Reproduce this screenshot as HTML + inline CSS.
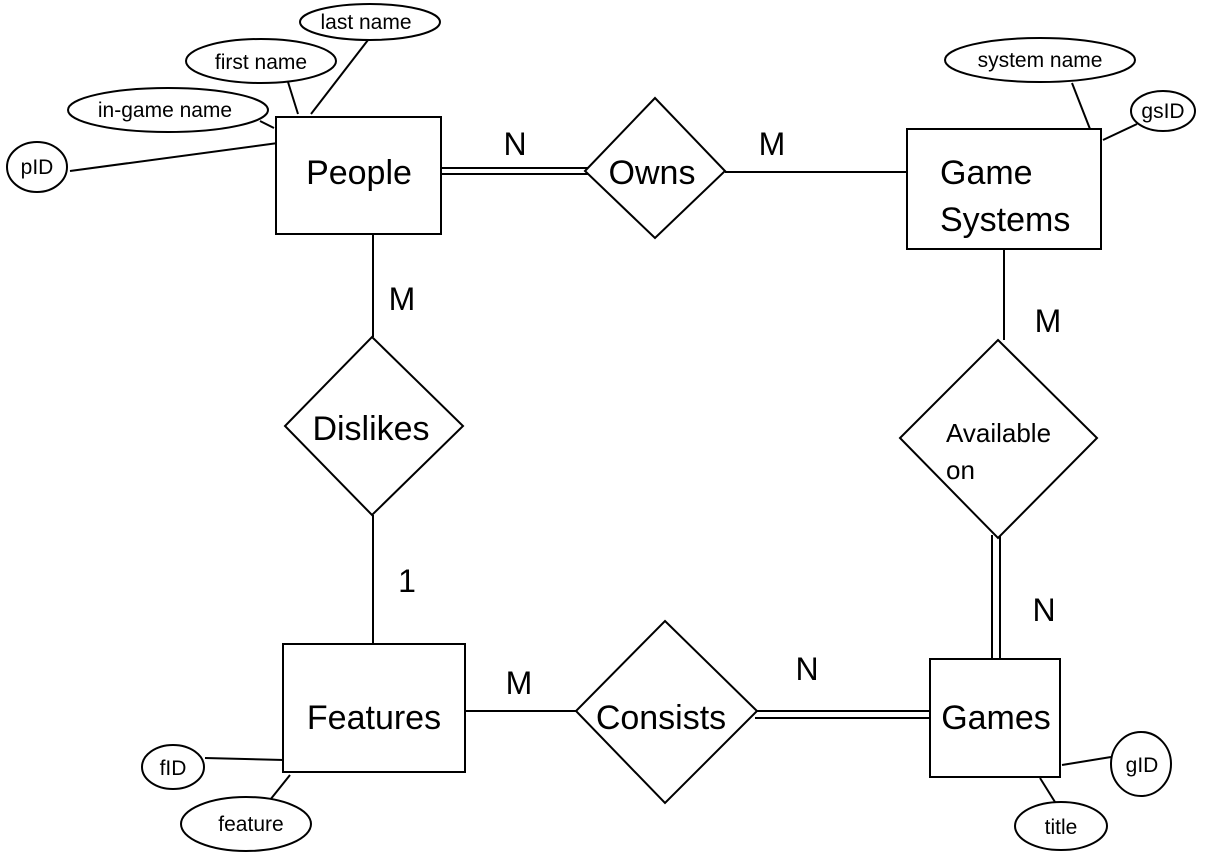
<!DOCTYPE html>
<html><head><meta charset="utf-8"><style>html,body{margin:0;padding:0;background:#fff}</style></head>
<body>
<svg width="1211" height="861" xmlns="http://www.w3.org/2000/svg" font-family="Liberation Sans, sans-serif" fill="none" stroke="#000" stroke-width="2">
<!-- connectors -->
<line x1="70" y1="171" x2="278" y2="143"/>
<line x1="260" y1="121" x2="274" y2="128"/>
<line x1="288" y1="82" x2="298" y2="114"/>
<line x1="368" y1="40" x2="311" y2="114"/>
<line x1="441" y1="168" x2="590" y2="168"/>
<line x1="441" y1="174" x2="590" y2="174"/>
<line x1="725" y1="172" x2="907" y2="172"/>
<line x1="1072" y1="83" x2="1090" y2="129"/>
<line x1="1103" y1="140" x2="1137" y2="124"/>
<line x1="373" y1="234" x2="373" y2="337"/>
<line x1="373" y1="515" x2="373" y2="644"/>
<line x1="205" y1="758" x2="284" y2="760"/>
<line x1="270" y1="800" x2="290" y2="775"/>
<line x1="465" y1="711" x2="577" y2="711"/>
<line x1="755" y1="711" x2="930" y2="711"/>
<line x1="755" y1="718" x2="930" y2="718"/>
<line x1="1062" y1="765" x2="1111" y2="757"/>
<line x1="1040" y1="778" x2="1055" y2="802"/>
<line x1="1004" y1="249" x2="1004" y2="340"/>
<line x1="992" y1="535" x2="992" y2="659"/>
<line x1="1000" y1="535" x2="1000" y2="659"/>
<!-- entities -->
<rect x="276" y="117" width="165" height="117" fill="#fff"/>
<rect x="907" y="129" width="194" height="120" fill="#fff"/>
<rect x="283" y="644" width="182" height="128" fill="#fff"/>
<rect x="930" y="659" width="130" height="118" fill="#fff"/>
<!-- relationships -->
<polygon points="655,98 725,171 655,238 585,171" fill="#fff"/>
<polygon points="372,337 463,426 372,515 285,426" fill="#fff"/>
<polygon points="665,621 757,711 665,803 576,711" fill="#fff"/>
<polygon points="998,340 1097,438 998,538 900,438" fill="#fff"/>
<!-- attributes -->
<ellipse cx="37" cy="167" rx="30" ry="25" fill="#fff"/>
<ellipse cx="168" cy="110" rx="100" ry="22" fill="#fff"/>
<ellipse cx="261" cy="61" rx="75" ry="22" fill="#fff"/>
<ellipse cx="370" cy="22" rx="70" ry="18" fill="#fff"/>
<ellipse cx="1040" cy="60" rx="95" ry="22" fill="#fff"/>
<ellipse cx="1163" cy="111" rx="32" ry="20" fill="#fff"/>
<ellipse cx="173" cy="767" rx="31" ry="22" fill="#fff"/>
<ellipse cx="246" cy="824" rx="65" ry="27" fill="#fff"/>
<ellipse cx="1141" cy="764" rx="30" ry="32" fill="#fff"/>
<ellipse cx="1061" cy="826" rx="46" ry="24" fill="#fff"/>
<g fill="#000" stroke="none" text-anchor="middle">
<g font-size="34">
<text x="359" y="184">People</text>
<text x="652" y="184">Owns</text>
<text x="371" y="440">Dislikes</text>
<text x="374" y="729">Features</text>
<text x="661" y="729">Consists</text>
<text x="996" y="729">Games</text>
<text x="940" y="184" text-anchor="start">Game</text>
<text x="940" y="231" text-anchor="start">Systems</text>
</g>
<text x="946" y="442" font-size="26" text-anchor="start">Available</text>
<text x="946" y="479" font-size="26" text-anchor="start">on</text>
<g font-size="32">
<text x="515" y="155">N</text>
<text x="772" y="155">M</text>
<text x="402" y="310">M</text>
<text x="407" y="592">1</text>
<text x="519" y="694">M</text>
<text x="807" y="680">N</text>
<text x="1048" y="332">M</text>
<text x="1044" y="621">N</text>
</g>
<g font-size="21">
<text x="37" y="174">pID</text>
<text x="165" y="117">in-game name</text>
<text x="261" y="69">first name</text>
<text x="366" y="29">last name</text>
<text x="1040" y="67">system name</text>
<text x="1163" y="118">gsID</text>
<text x="173" y="775">fID</text>
<text x="251" y="831">feature</text>
<text x="1142" y="772">gID</text>
<text x="1061" y="834">title</text>
</g>
</g>
</svg>
</body></html>
